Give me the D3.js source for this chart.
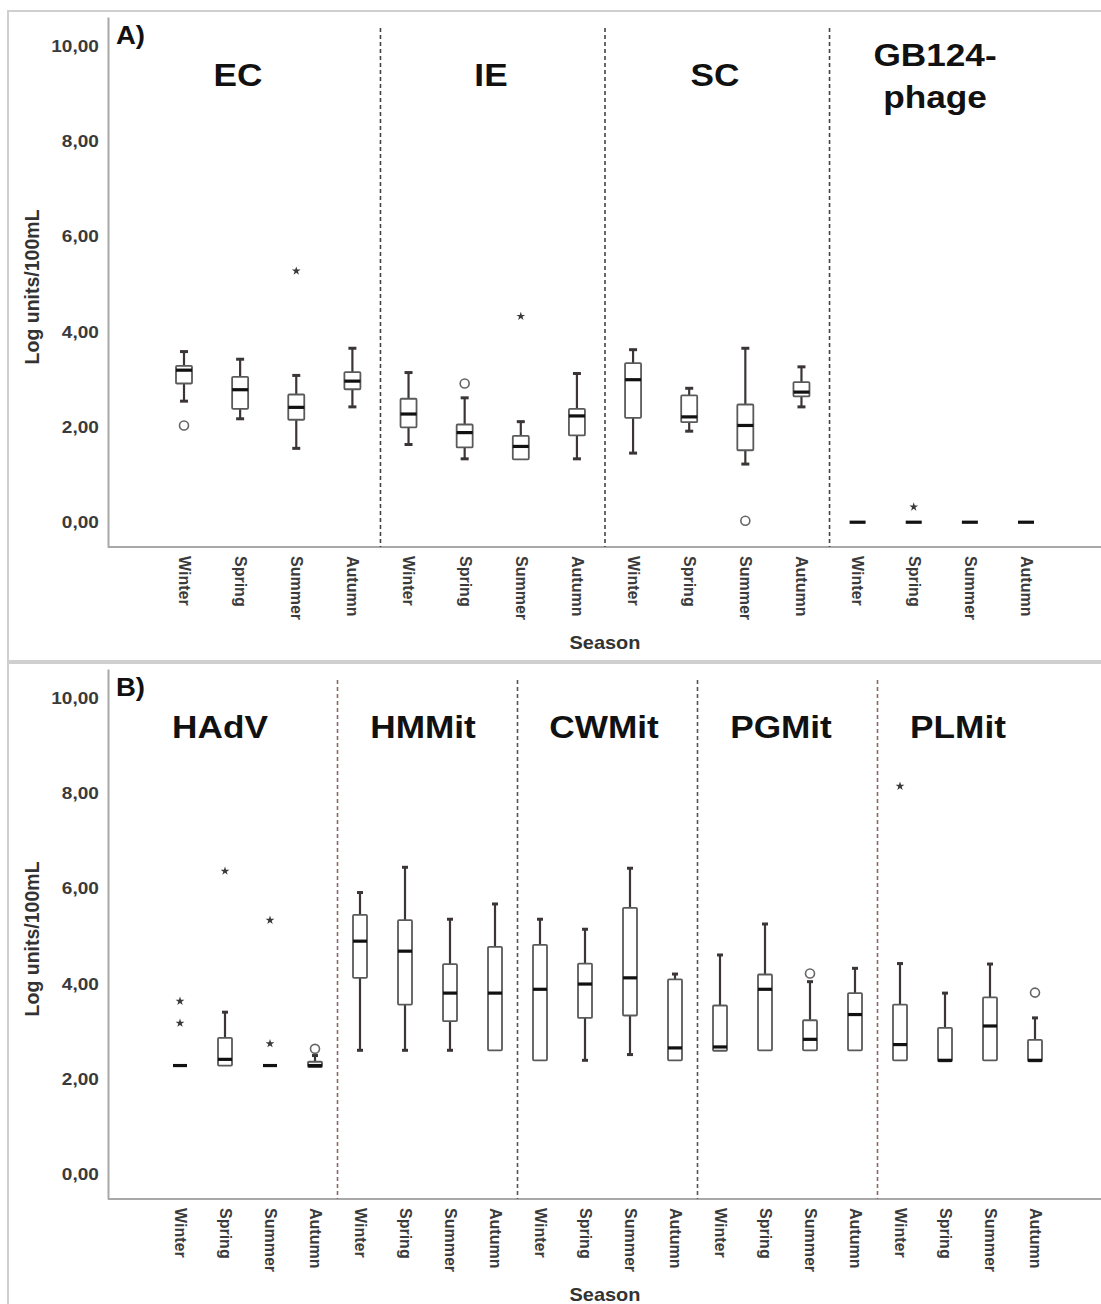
<!DOCTYPE html>
<html>
<head>
<meta charset="utf-8">
<script src="https://cdn.jsdelivr.net/npm/d3@7"></script>
<style>
  body { margin: 0; background: #fff; }
  text { font-family: "Liberation Sans", Arial, sans-serif; font-weight: bold; }
</style>
</head>
<body>
<div id="chart"></div>
<script>
// season categories, repeated for every group
var seasons = ["Winter", "Spring", "Summer", "Autumn"];
var yTicks = [0, 2, 4, 6, 8, 10];

// panel A : groups and box stats (one value per group x season)
var groupsA = ["EC", "IE", "SC", "GB124-phage"];
var lowA  = [2.54, 2.17, 1.55, 2.42,  1.63, 1.33, 1.32, 1.33,  1.45, 1.91, 1.22, 2.42,  0, 0, 0, 0];
var q1A   = [2.91, 2.38, 2.15, 2.79,  1.99, 1.57, 1.32, 1.82,  2.19, 2.10, 1.51, 2.64,  0, 0, 0, 0];
var medA  = [3.19, 2.78, 2.41, 2.96,  2.27, 1.88, 1.59, 2.23,  2.99, 2.21, 2.03, 2.73,  0, 0, 0, 0];
var q3A   = [3.28, 3.05, 2.68, 3.15,  2.59, 2.05, 1.81, 2.38,  3.34, 2.66, 2.47, 2.94,  0, 0, 0, 0];
var highA = [3.58, 3.42, 3.08, 3.65,  3.14, 2.61, 2.11, 3.12,  3.62, 2.81, 3.65, 3.26,  0, 0, 0, 0];
// [category index, value, "o" = outlier, "*" = extreme]
var outliersA = [[0, 2.03, "o"], [2, 5.27, "*"], [5, 2.91, "o"], [6, 4.32, "*"], [10, 0.03, "o"], [13, 0.32, "*"]];

// panel B
var groupsB = ["HAdV", "HMMit", "CWMit", "PGMit", "PLMit"];
var lowB  = [2.28, 2.28, 2.28, 2.25,  2.60, 2.60, 2.60, 2.60,  2.39, 2.39, 2.51, 2.39,  2.59, 2.60, 2.60, 2.60,  2.39, 2.37, 2.39, 2.37];
var q1B   = [2.28, 2.28, 2.28, 2.25,  4.12, 3.56, 3.21, 2.60,  2.39, 3.28, 3.33, 2.39,  2.59, 2.60, 2.60, 2.60,  2.39, 2.37, 2.39, 2.37];
var medB  = [2.28, 2.41, 2.28, 2.28,  4.89, 4.68, 3.80, 3.80,  3.88, 3.99, 4.12, 2.65,  2.67, 3.88, 2.83, 3.35,  2.72, 2.39, 3.11, 2.39];
var q3B   = [2.28, 2.86, 2.28, 2.36,  5.44, 5.33, 4.41, 4.77,  4.81, 4.42, 5.59, 4.09,  3.54, 4.19, 3.23, 3.80,  3.56, 3.07, 3.71, 2.82];
var highB = [2.28, 3.40, 2.28, 2.49,  5.91, 6.44, 5.35, 5.67,  5.35, 5.14, 6.42, 4.20,  4.60, 5.25, 4.04, 4.32,  4.42, 3.80, 4.41, 3.28];
var outliersB = [[0, 3.63, "*"], [0, 3.17, "*"], [1, 6.36, "*"], [2, 5.33, "*"], [2, 2.74, "*"], [3, 2.63, "o"],
                 [14, 4.21, "o"], [16, 8.14, "*"], [19, 3.81, "o"]];

var width = 1101, height = 1304;
var fmt = function(d) { return d3.format(".2f")(d).replace(".", ","); };

var svg = d3.select("#chart").append("svg")
  .attr("width", width)
  .attr("height", height);

// panel frames
svg.append("rect").attr("x", 8).attr("y", 11).attr("width", 1110).attr("height", 650)
  .attr("fill", "none").attr("stroke", "#cfcfcf").attr("stroke-width", 2);
svg.append("rect").attr("x", 8).attr("y", 663).attr("width", 1110).attr("height", 660)
  .attr("fill", "none").attr("stroke", "#cfcfcf").attr("stroke-width", 2);

function drawPanel(p) {
  var g = svg.append("g");
  var cats = [];
  p.groups.forEach(function(gr, gi) {
    seasons.forEach(function(s) { cats.push(gi + "|" + s); });
  });

  var x = d3.scalePoint().domain(cats).range([p.x0 + p.padL, p.x1 - p.padR]);
  var y = d3.scaleLinear().domain([-0.52, 10.6]).range([p.bottom, p.top]);
  var step = x.step();

  // axes
  var yAxis = g.append("g")
    .attr("transform", "translate(" + p.x0 + ",0)")
    .call(d3.axisLeft(y).tickValues(yTicks).tickFormat(fmt).tickSize(0).tickPadding(9));
  yAxis.select(".domain").attr("stroke", "#a8a8a8").attr("stroke-width", 2);
  yAxis.selectAll("text").style("font-size", "17px").attr("fill", "#3a3a3a")
    .attr("transform", "translate(-8,0) scale(1.12,1) translate(8,0)");

  var xAxis = g.append("g")
    .attr("transform", "translate(0," + p.bottom + ")")
    .call(d3.axisBottom(x).tickSize(0).tickFormat(function(d) { return d.split("|")[1]; }));
  xAxis.select(".domain").remove();
  xAxis.selectAll("text")
    .style("font-size", "16px").attr("fill", "#3a3a3a")
    .attr("text-anchor", "start")
    .attr("dy", "0.35em")
    .attr("y", 0)
    .attr("x", 9)
    .attr("transform", "rotate(90)");
  g.append("line")
    .attr("x1", p.x0).attr("x2", width)
    .attr("y1", p.bottom).attr("y2", p.bottom)
    .attr("stroke", "#a8a8a8").attr("stroke-width", 2);

  // group dividers
  p.groups.forEach(function(gr, gi) {
    if (gi == 0) return;
    var xd = x((gi - 1) + "|Autumn") + step / 2;
    g.append("line")
      .attr("x1", xd).attr("x2", xd)
      .attr("y1", p.top + 11).attr("y2", p.bottom)
      .attr("stroke", p.divColors[gi - 1])
      .attr("stroke-width", 1.6)
      .attr("stroke-dasharray", "4,3");
  });

  // boxes
  var bw = p.boxW, cw = p.capW;
  cats.forEach(function(c, i) {
    var cx = x(c);
    var whiskColor = "#3b3535";
    if (p.high[i] > p.q3[i]) {
      g.append("line").attr("x1", cx).attr("x2", cx).attr("y1", y(p.q3[i])).attr("y2", y(p.high[i]))
        .attr("stroke", whiskColor).attr("stroke-width", 2.2);
      g.append("line").attr("x1", cx - cw / 2).attr("x2", cx + cw / 2).attr("y1", y(p.high[i])).attr("y2", y(p.high[i]))
        .attr("stroke", whiskColor).attr("stroke-width", 3);
    }
    if (p.low[i] < p.q1[i]) {
      g.append("line").attr("x1", cx).attr("x2", cx).attr("y1", y(p.q1[i])).attr("y2", y(p.low[i]))
        .attr("stroke", whiskColor).attr("stroke-width", 2.2);
      g.append("line").attr("x1", cx - cw / 2).attr("x2", cx + cw / 2).attr("y1", y(p.low[i])).attr("y2", y(p.low[i]))
        .attr("stroke", whiskColor).attr("stroke-width", 3);
    }
    if (p.q3[i] > p.q1[i]) {
      g.append("rect")
        .attr("x", cx - bw / 2).attr("width", bw)
        .attr("y", y(p.q3[i])).attr("height", y(p.q1[i]) - y(p.q3[i]))
        .attr("fill", "#fff").attr("stroke", "#5a5a5a").attr("stroke-width", 1.8).attr("rx", 1);
    }
    g.append("line")
      .attr("x1", cx - bw / 2).attr("x2", cx + bw / 2)
      .attr("y1", y(p.med[i])).attr("y2", y(p.med[i]))
      .attr("stroke", "#111").attr("stroke-width", 3.2);
  });

  // outliers
  p.outliers.forEach(function(o) {
    var cx = x(cats[o[0]]), cy = y(o[1]);
    if (o[2] == "o") {
      g.append("circle").attr("cx", cx).attr("cy", cy).attr("r", 4.5)
        .attr("fill", "#fff").attr("stroke", "#666").attr("stroke-width", 1.6);
    } else {
      g.append("path").attr("d", d3.symbol(d3.symbolStar, 24)())
        .attr("transform", "translate(" + cx + "," + cy + ")")
        .attr("fill", "#3a3a3a");
    }
  });

  // group titles
  p.groups.forEach(function(gr, gi) {
    var lines = p.titleLines[gi];
    lines.forEach(function(t, li) {
      g.append("text")
        .attr("transform", "translate(" + p.titleX[gi] + "," + (p.titleY + li * 42 - (lines.length - 1) * 20) + ") scale(1.1,1)")
        .attr("text-anchor", "middle")
        .style("font-size", "32px")
        .attr("fill", "#111")
        .text(t);
    });
  });

  // panel letter
  g.append("text")
    .attr("transform", "translate(" + (p.x0 + 8) + "," + (p.top + 27) + ") scale(1.1,1)")
    .style("font-size", "25px").attr("fill", "#111")
    .text(p.letter);

  // axis titles
  g.append("text")
    .attr("transform", "translate(39," + (y(5) + 3) + ") rotate(-90)")
    .attr("text-anchor", "middle")
    .style("font-size", "19.5px").attr("fill", "#333")
    .text("Log units/100mL");
  g.append("text")
    .attr("transform", "translate(605," + (p.bottom + 102) + ") scale(1.05,1)")
    .attr("text-anchor", "middle")
    .style("font-size", "19px").attr("fill", "#333")
    .text("Season");
}

drawPanel({
  letter: "A)", groups: groupsA,
  titleLines: [["EC"], ["IE"], ["SC"], ["GB124-", "phage"]],
  titleX: [238, 491, 715, 935], titleY: 86,
  low: lowA, q1: q1A, med: medA, q3: q3A, high: highA, outliers: outliersA,
  x0: 108, x1: width, padL: 76, padR: 75, top: 17, bottom: 547,
  boxW: 16, capW: 8, divColors: ["#444", "#444", "#444"]
});

drawPanel({
  letter: "B)", groups: groupsB,
  titleLines: [["HAdV"], ["HMMit"], ["CWMit"], ["PGMit"], ["PLMit"]],
  titleX: [220, 423, 604, 781, 958], titleY: 738,
  low: lowB, q1: q1B, med: medB, q3: q3B, high: highB, outliers: outliersB,
  x0: 108, x1: width, padL: 72, padR: 66, top: 669, bottom: 1199,
  boxW: 14, capW: 6, divColors: ["#8a6868", "#555", "#555", "#8a6868"]
});
</script>
</body>
</html>
